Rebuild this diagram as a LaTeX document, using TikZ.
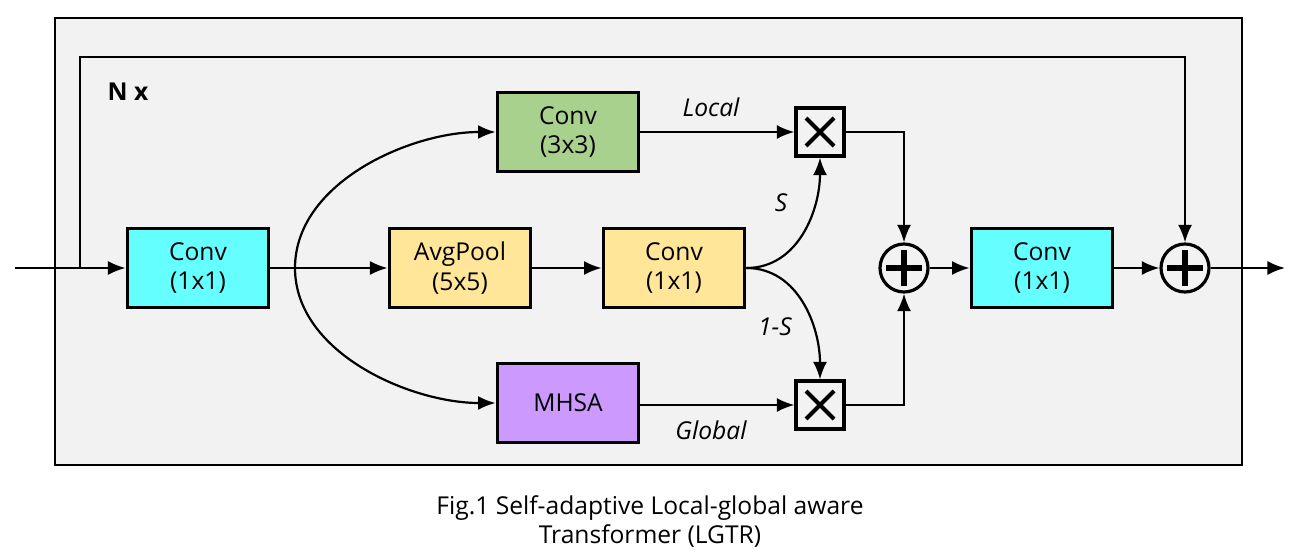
\documentclass[tikz,border=0pt]{standalone}
\usepackage{fontspec}
\setmainfont{Open Sans}
\usetikzlibrary{arrows.meta}
\usetikzlibrary{positioning}
\definecolor{bgray}{HTML}{F2F2F2}
\definecolor{mcyan}{HTML}{66FFFF}
\definecolor{mgreen}{HTML}{A9D18E}
\definecolor{myellow}{HTML}{FFE699}
\definecolor{mpurple}{HTML}{CC99FF}
\tikzset{blk/.style = {draw, line width=2.2pt, minimum width=2.82cm, minimum height=1.58cm,
                       align=center, font=\fontsize{14}{17}\selectfont}}
\tikzset{lnk/.style = {line width=1.25pt, -{Latex[length=10pt,width=8pt]}}}
\tikzset{mul/.style = {draw, line width=1.8pt, minimum size=0.96cm, inner sep=0,
                       path picture={\draw [line width=2.3pt]
                         ([shift={(-0.28,-0.28)}]path picture bounding box.center) -- ([shift={(0.28,0.28)}]path picture bounding box.center)
                         ([shift={(-0.28,0.28)}]path picture bounding box.center) -- ([shift={(0.28,-0.28)}]path picture bounding box.center);}}}
\tikzset{add/.style = {draw, circle, line width=1.8pt, minimum size=0.96cm, inner sep=0,
                       path picture={\draw [line width=3pt]
                         ([xshift=-0.36cm]path picture bounding box.center) -- ([xshift=0.36cm]path picture bounding box.center)
                         ([yshift=-0.36cm]path picture bounding box.center) -- ([yshift=0.36cm]path picture bounding box.center);}}}
\tikzset{lbl/.style = {font=\fontsize{14}{17}\selectfont\itshape}}

\begin{document}
\begin{tikzpicture}
      \useasboundingbox (0, 0) rectangle (25.98, -11.08);

      % outer block
      \draw [line width=1.2pt, fill=bgray] (1.1, -0.36) rectangle (24.84, -9.3);
      \node [font=\fontsize{14}{17}\selectfont\bfseries] (nx) at (2.56, -1.84) {N x};

      % blocks
      \node [blk, fill=mcyan] (convA) at (3.96, -5.36) {Conv\\(1x1)};
      \node [blk, fill=myellow] (pool) at (9.2, -5.36) {AvgPool\\(5x5)};
      \node [blk, fill=myellow] (convS) at (13.48, -5.36) {Conv\\(1x1)};
      \node [blk, fill=mgreen] (local) at (11.36, -2.64) {Conv\\(3x3)};
      \node [blk, fill=mpurple] (mhsa) at (11.36, -8.06) {MHSA};
      \node [blk, fill=mcyan] (convB) at (20.84, -5.36) {Conv\\(1x1)};

      \node [mul] (mulL) at (16.4, -2.64) {};
      \node [mul] (mulG) at (16.4, -8.1) {};
      \node [add] (addA) at (18.08, -5.36) {};
      \node [add] (addB) at (23.7, -5.36) {};

      \coordinate (in) at (0.3, -5.36);
      \coordinate (out) at (25.7, -5.36);
      \coordinate (split) at (1.6, -5.36);
      \coordinate (top) at (1.6, -1.14);
      \coordinate (fork) at (5.9, -5.36);

      % connectors
      \draw [lnk] (in) -- (convA);
      \draw [lnk] (split) -- (top) -| (addB.north);
      \draw [lnk] (convA) -- (pool);
      \draw [lnk] (fork) to [out=90, in=180, looseness=0.9] (local.west);
      \draw [lnk] (fork) to [out=-90, in=180, looseness=0.9] (mhsa.west);
      \draw [lnk] (pool) -- (convS);
      \draw [lnk] (local) -- (mulL);
      \draw [lnk] (mhsa.east |- mulG) -- (mulG);
      \draw [lnk] (convS.east) to [out=0, in=-90] (mulL.south);
      \draw [lnk] (convS.east) to [out=0, in=90] (mulG.north);
      \draw [lnk] (mulL.east) -| (addA.north);
      \draw [lnk] (mulG.east) -| (addA.south);
      \draw [lnk] (addA) -- (convB);
      \draw [lnk] (convB) -- (addB);
      \draw [lnk] (addB) -- (out);

      % labels
      \node [lbl] (tl) at (14.22, -2.14) {Local};
      \node [lbl] (ts) at (15.62, -4.06) {S};
      \node [lbl] (tg) at (15.5, -6.54) {1-S};
      \node [lbl] (tgl) at (14.22, -8.6) {Global};

      \node [align=center, font=\fontsize{14}{16}\selectfont] (cap) at (13, -10.43)
            {Fig.1 Self-adaptive Local-global aware\\Transformer (LGTR)};
    \end{tikzpicture}
\end{document}
